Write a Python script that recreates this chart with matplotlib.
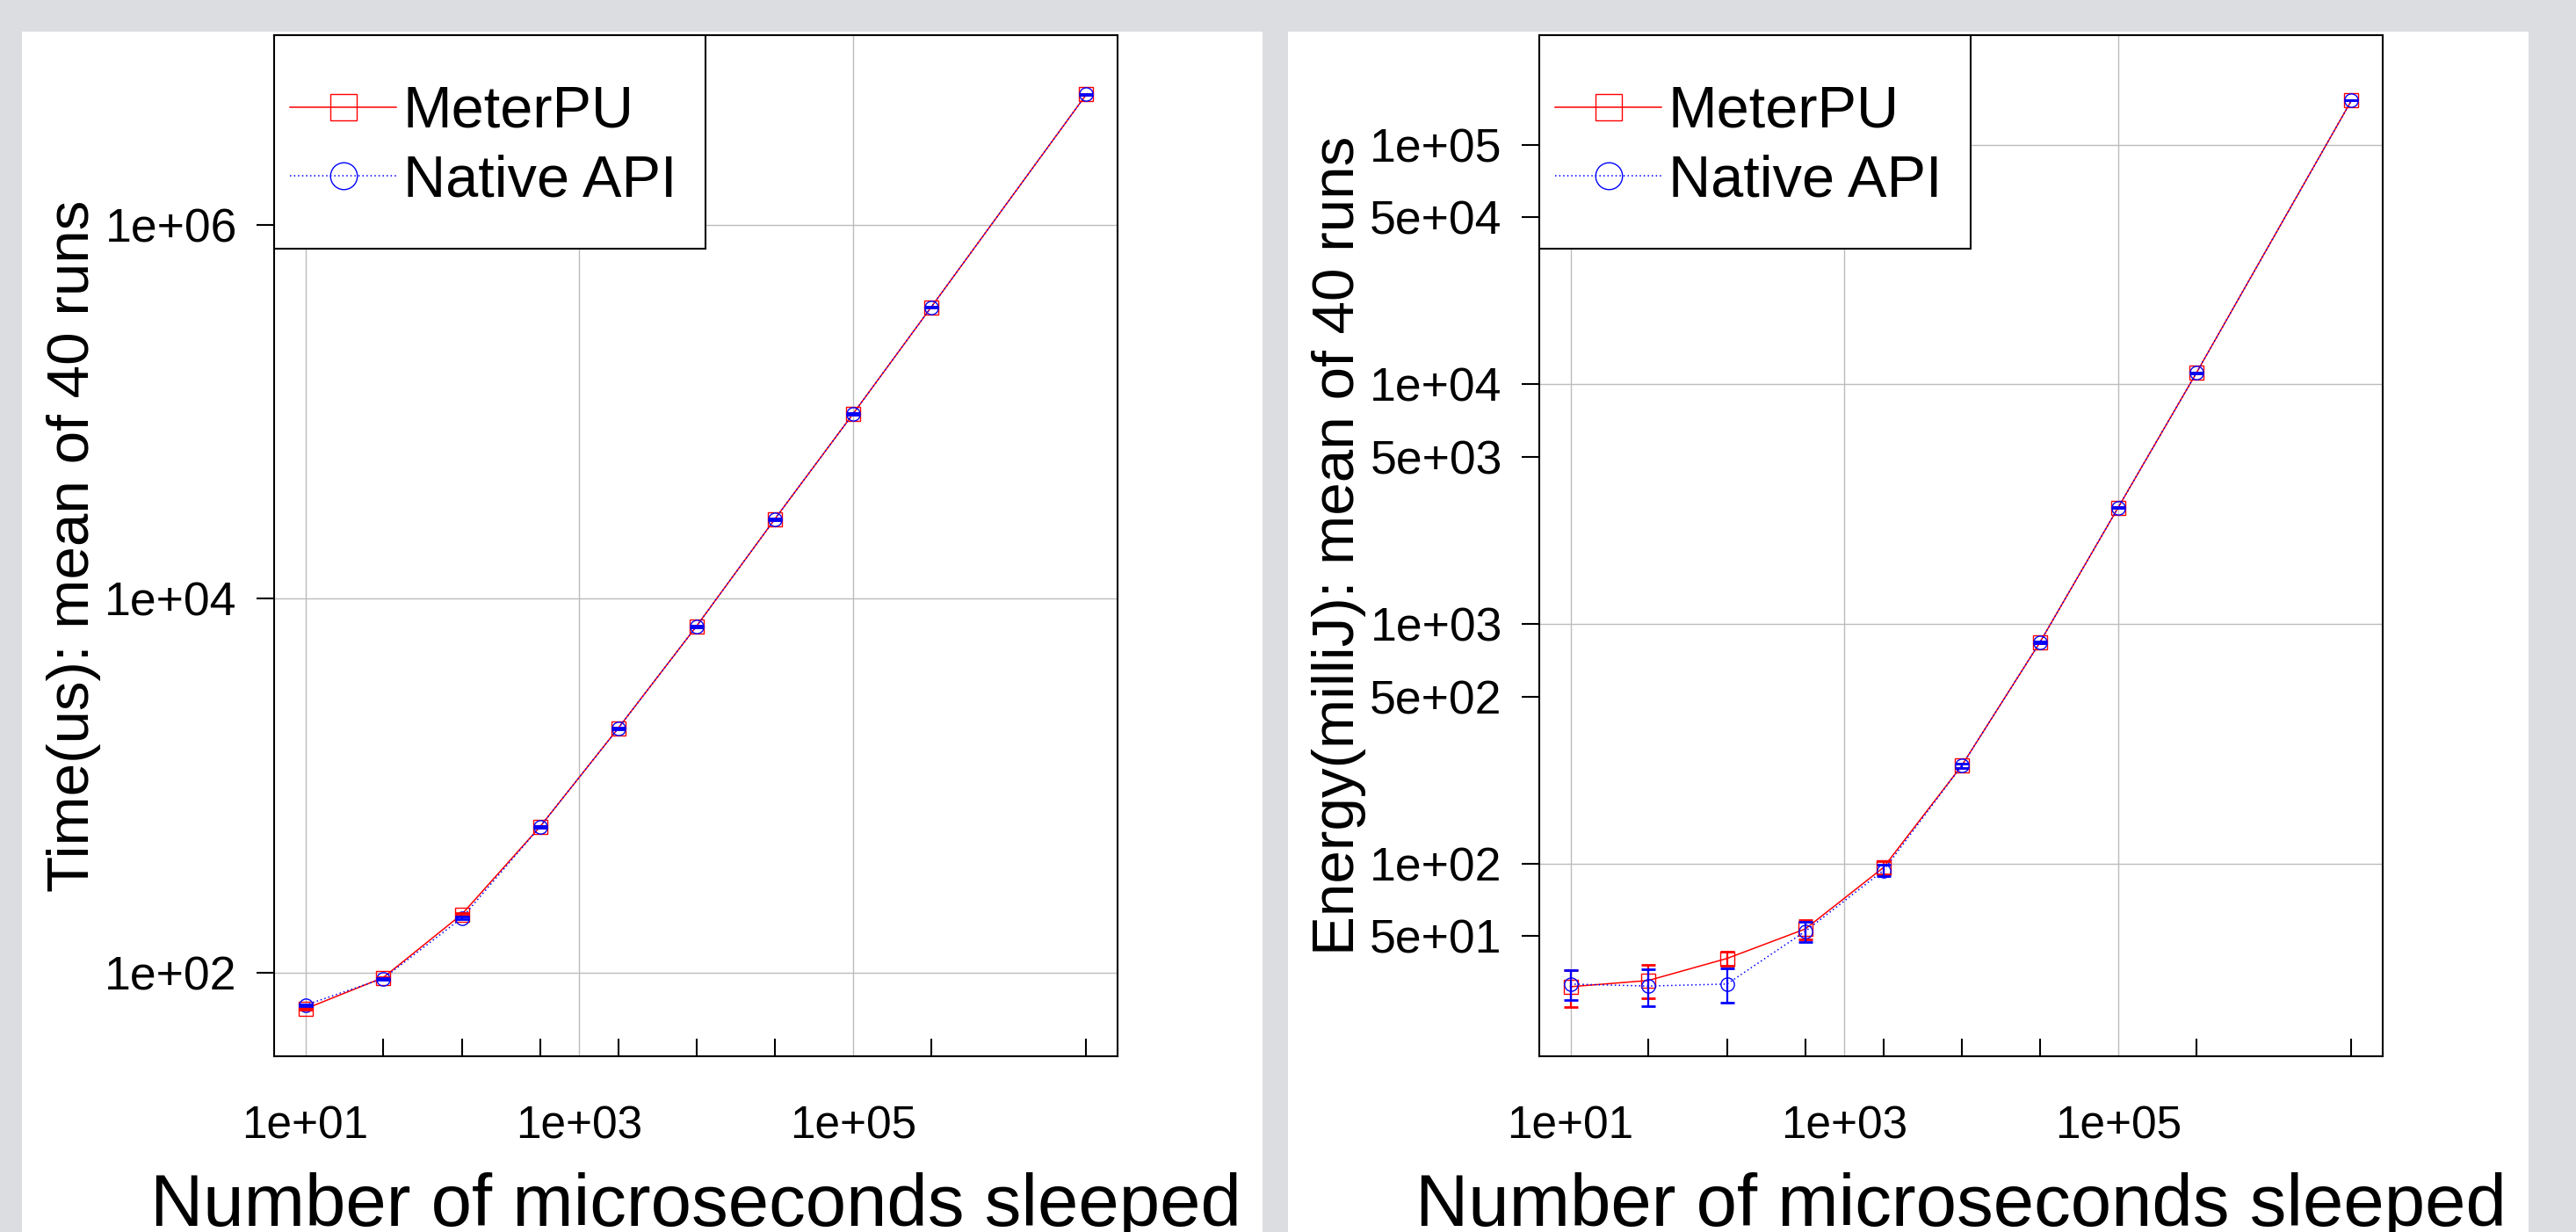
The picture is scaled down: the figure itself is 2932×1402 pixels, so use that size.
import matplotlib
matplotlib.use("Agg")
import matplotlib.pyplot as plt
from matplotlib.patches import Rectangle
from matplotlib.ticker import FixedLocator, FixedFormatter, NullFormatter, NullLocator

plt.rcParams['font.family'] = ['Liberation Sans', 'DejaVu Sans']

# sleep length per run [us]
sleep_us = [10, 37, 139, 518, 1930, 7200, 26800, 100000, 373000, 5070000]

# left panel: time [us], mean of 40 runs
time_meterpu = [64, 94, 205, 603, 2030, 7130, 26600, 97300, 363000, 4990000]
time_meterpu_err = [0.8, 1.0, 2.5, 6, 20, 70, 250, 900, 3500, 45000]
time_native = [67, 93, 196, 603, 2030, 7130, 26600, 97300, 363000, 4990000]
time_native_err = [0.8, 1.0, 2.5, 6, 20, 70, 250, 900, 3500, 45000]

# right panel: energy [milliJ], mean of 40 runs
energy_meterpu = [30.8, 32.7, 40.4, 53.6, 96.7, 257, 839, 3062, 11160, 152900]
energy_meterpu_err = [5.4, 5.2, 2.8, 4.9, 6.0, 5, 6, 10, 30, 300]
energy_native = [31.6, 31.0, 31.6, 52.4, 94.0, 257, 839, 3062, 11160, 152900]
energy_native_err = [4.5, 5.5, 5.2, 5.2, 5.0, 5, 6, 10, 30, 300]

labels = ["MeterPU", "Native API"]

time_yticks = [1e2, 1e4, 1e6]
time_yticklabels = ["1e+02", "1e+04", "1e+06"]
energy_yticks = [1e2, 1e3, 1e4, 1e5]
energy_yticklabels = ["1e+02", "1e+03", "1e+04", "1e+05"]
energy_yticks5 = [5e1, 5e2, 5e3, 5e4]
energy_yticklabels5 = ["5e+01", "5e+02", "5e+03", "5e+04"]
xticks = [1e1, 1e3, 1e5]
xticklabels = ["1e+01", "1e+03", "1e+05"]

W, H = 2932, 1402
fig = plt.figure(figsize=(W / 100, H / 100), dpi=100, facecolor='#dcdde0')

# white panels behind each plot
for x0, x1 in [(25, 1437), (1466, 2878)]:
    fig.patches.append(Rectangle((x0 / W, 0), (x1 - x0) / W, (H - 36) / H,
                                 transform=fig.transFigure, facecolor='white',
                                 edgecolor='none', zorder=-1))

ax_w, ax_h = 960 / W, 1162 / H
ax_y0 = (H - 1202) / H
ax1 = fig.add_axes([312 / W, ax_y0, ax_w, ax_h])
ax2 = fig.add_axes([1752 / W, ax_y0, ax_w, ax_h])

panels = [
    (ax1, time_meterpu, time_meterpu_err, time_native, time_native_err,
     "Time(us): mean of 40 runs", (35.7, 1.035e7)),
    (ax2, energy_meterpu, energy_meterpu_err, energy_native, energy_native_err,
     "Energy(milliJ): mean of 40 runs", (15.8, 2.86e5)),
]

for ax, ym, em, yn, en, ylabel, ylim in panels:
    ax.set_xscale('log')
    ax.set_yscale('log')
    ax.set_axisbelow(True)

    l1, = ax.plot(sleep_us, ym, color='red', lw=1.1, marker='s', ms=11,
                  mfc='none', mec='red', mew=1.0, zorder=2)
    l2, = ax.plot(sleep_us, yn, color='blue', lw=1.1, ls=(0, (1, 2)), marker='o',
                  ms=11, mfc='none', mec='blue', mew=1.0, zorder=2.1)
    ax.errorbar(sleep_us, ym, yerr=em, fmt='none', ecolor='red', elinewidth=1.6,
                capsize=5.5, capthick=2.0, zorder=3)
    ax.errorbar(sleep_us, yn, yerr=en, fmt='none', ecolor='blue', elinewidth=1.6,
                capsize=5.5, capthick=2.0, zorder=3.1)

    ax.set_xlim(10 ** 0.772, 10 ** 6.933)
    ax.set_ylim(*ylim)

    # x axis: labelled decades with grid, inward ticks at the sleep values
    ax.xaxis.set_major_locator(FixedLocator(xticks))
    ax.xaxis.set_major_formatter(FixedFormatter(xticklabels))
    ax.xaxis.set_minor_locator(FixedLocator(sleep_us))
    ax.xaxis.set_minor_formatter(NullFormatter())
    ax.tick_params(axis='x', which='major', length=0, pad=40, labelsize=37)
    ax.tick_params(axis='x', which='minor', direction='in', length=14.4, width=1.5)
    ax.tick_params(axis='y', which='both', direction='out', length=14.4, width=1.5,
                   pad=16, labelsize=38.5)

    ax.grid(True, which='major', color='#bcbcbc', lw=1.0)
    for s in ax.spines.values():
        s.set_linewidth(1.5)

    ax.set_xlabel("Number of microseconds sleeped", fontsize=60, va='baseline')
    ax.xaxis.set_label_coords(0.5, -0.166)
    ax.set_ylabel(ylabel, fontsize=48.5, va='center')
    ax.yaxis.set_label_coords(-0.237, 0.5)

    # legend box in the upper left corner
    ax.add_patch(Rectangle((0, 0.791), 0.5115, 0.209, transform=ax.transAxes,
                           facecolor='white', edgecolor='black', lw=1.5,
                           zorder=4, clip_on=False))
    leg = ax.legend([l1, l2], labels, loc='upper left', bbox_to_anchor=(0.019, 0.951),
                    frameon=False, borderpad=0, borderaxespad=0, fontsize=48,
                    handlelength=1.81, handletextpad=0.12, labelspacing=0.25,
                    markerscale=2)
    leg.set_zorder(5)

ax1.yaxis.set_major_locator(FixedLocator(time_yticks))
ax1.yaxis.set_major_formatter(FixedFormatter(time_yticklabels))
ax1.yaxis.set_minor_locator(NullLocator())

ax2.yaxis.set_major_locator(FixedLocator(energy_yticks))
ax2.yaxis.set_major_formatter(FixedFormatter(energy_yticklabels))
ax2.yaxis.set_minor_locator(FixedLocator(energy_yticks5))
ax2.yaxis.set_minor_formatter(FixedFormatter(energy_yticklabels5))

fig.savefig("out.png", dpi=100, facecolor=fig.get_facecolor())
